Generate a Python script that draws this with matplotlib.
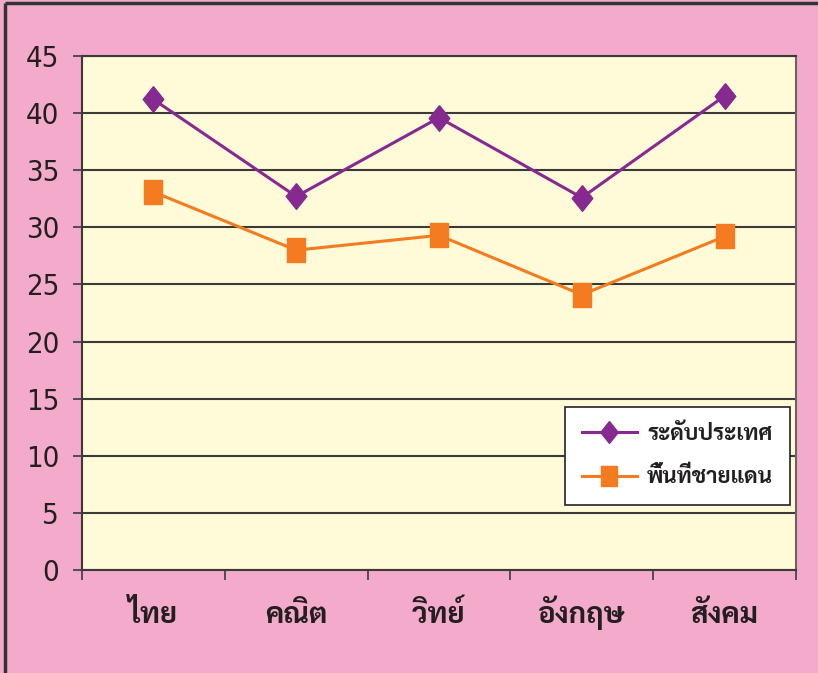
import matplotlib
matplotlib.use("Agg")
import matplotlib.pyplot as plt
from matplotlib.lines import Line2D

categories = ["ไทย", "คณิต", "วิทย์", "อังกฤษ", "สังคม"]
national = [41.2, 32.7, 39.6, 32.6, 41.5]
border = [33.1, 28.0, 29.3, 24.1, 29.2]
series_names = ["ระดับประเทศ", "พื้นที่ชายแดน"]
yticks = [0, 5, 10, 15, 20, 25, 30, 35, 40, 45]

THAI = ["Sarabun", "DejaVu Sans"]
TXT = "#231f20"
GRID = "#3a3a3a"

W, H = 818, 673
fig = plt.figure(figsize=(W / 100, H / 100), dpi=100)
fig.patch.set_facecolor("#F4AACB")

# outer frame (top and left edges visible)
fig.add_artist(Line2D([5 / W, 5 / W], [0, 1 - 3 / H], transform=fig.transFigure,
                      color="#333333", lw=2.5, solid_capstyle="butt"))
fig.add_artist(Line2D([5 / W, 0.9995], [1 - 3 / H, 1 - 3 / H], transform=fig.transFigure,
                      color="#333333", lw=2.5, solid_capstyle="butt"))

ax = fig.add_axes([82 / W, 1 - 570 / H, 714 / W, 514 / H])
ax.set_facecolor("#FFFAD7")

x = list(range(len(categories)))
diamond = [(0, 1), (0.8, 0), (0, -1), (-0.8, 0), (0, 1)]
rect = [(-0.75, -1), (0.75, -1), (0.75, 1), (-0.75, 1), (-0.75, -1)]
ax.plot(x, national, color="#862990", lw=2.2, marker=diamond, ms=18.5,
        mec="#862990", label=series_names[0], zorder=4)
ax.plot(x, border, color="#F47B20", lw=2.2, marker=rect, ms=17,
        mec="#F47B20", label=series_names[1], zorder=3)

ax.set_xlim(-0.5, len(categories) - 0.5)
ax.set_ylim(0, 45)
ax.set_yticks(yticks)
ax.set_yticklabels([str(v) for v in yticks], family="DejaVu Sans", fontstretch="condensed",
                   fontsize=21, color=TXT)
ax.yaxis.grid(True, color=GRID, lw=1.5)
ax.set_axisbelow(True)
ax.tick_params(axis="y", direction="out", length=6.5, width=1.2, color=GRID, pad=10)

ax.set_xticks(x)
ax.set_xticklabels(categories, family=THAI, fontsize=21, fontweight="bold", color=TXT)
for lab in ax.get_xticklabels():
    lab.set_verticalalignment("baseline")
ax.tick_params(axis="x", which="major", length=0, pad=38)
ax.set_xticks([i - 0.5 for i in range(len(categories) + 1)], minor=True)
ax.tick_params(axis="x", which="minor", direction="out", length=7.5, width=1.2, color=GRID)

for s in ["left", "bottom", "top"]:
    ax.spines[s].set_color(GRID)
    ax.spines[s].set_linewidth(1.5)
ax.spines["right"].set_color("#666666")
ax.spines["right"].set_linewidth(1.5)

leg = ax.legend(loc="lower right", bbox_to_anchor=((790 - 82) / 714, (570 - 505) / 514),
                prop={"family": THAI, "size": 16, "weight": "bold"},
                frameon=True, fancybox=False, edgecolor="#222222", facecolor="white",
                framealpha=1, borderpad=0.75, labelspacing=1.0, handlelength=2.5,
                handletextpad=0.45, borderaxespad=0, markerscale=0.85)
leg.get_frame().set_linewidth(1.2)
for t in leg.get_texts():
    t.set_color(TXT)

fig.savefig("out.png", dpi=100, facecolor=fig.get_facecolor())
